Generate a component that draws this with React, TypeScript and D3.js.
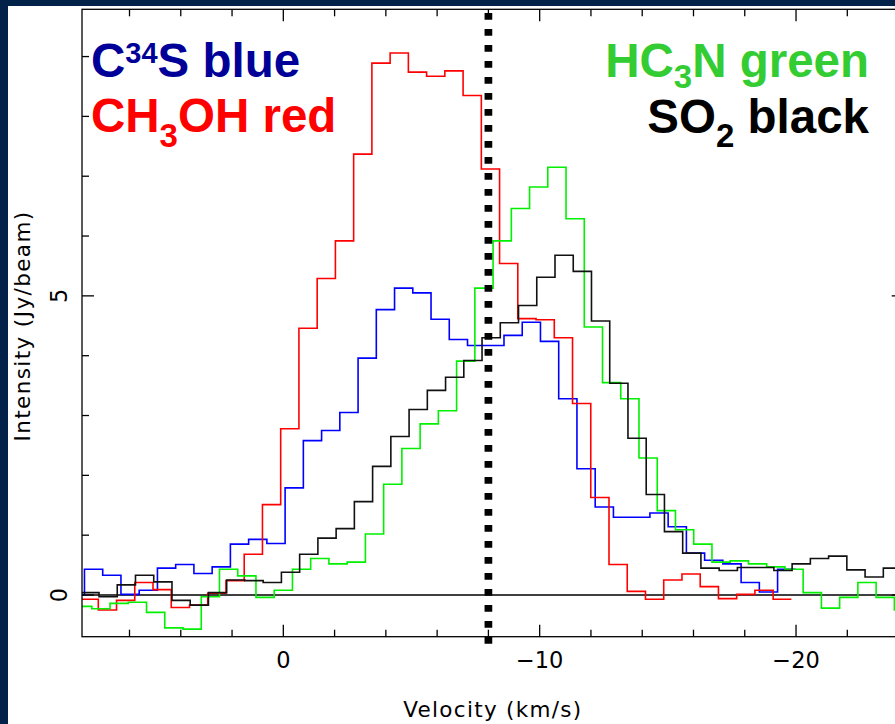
import React from 'react';
import * as d3 from 'd3';

// ---- data (velocity in km/s, intensity in Jy/beam) ----
const CHANNEL_WIDTH = 0.7115;

const C34S_START = 8.468;
const C34S_VALUES = [0.0, 0.43, 0.33, 0.01, 0.08, 0.45, 0.51, 0.36, 0.47, 0.85, 0.93, 0.86, 1.79, 2.58, 2.75, 3.05, 3.96, 4.77, 5.13, 5.05, 4.61, 4.27, 4.17, 4.17, 4.34, 4.56, 4.24, 3.28, 2.11, 1.47, 1.30, 1.30, 1.37, 1.14, 0.70, 0.58, 0.52, 0.21, 0.05, 0.43];

const CH3OH_START = 7.929;
const CH3OH_VALUES = [-0.07, -0.25, -0.09, 0.21, 0.09, -0.21, -0.17, 0.03, 0.24, 0.68, 1.51, 2.78, 4.46, 5.29, 5.92, 7.37, 8.89, 9.06, 8.74, 8.67, 8.76, 8.35, 7.12, 5.54, 4.62, 4.60, 4.30, 3.20, 1.63, 0.51, 0.06, -0.07, 0.25, 0.35, 0.14, -0.06, 0.01, 0.08, -0.07];

const HC3N_START = 8.182;
const HC3N_VALUES = [-0.19, -0.23, -0.14, -0.12, -0.29, -0.55, -0.57, -0.03, 0.43, 0.32, -0.04, 0.08, 0.43, 0.61, 0.52, 0.55, 1.02, 1.85, 2.45, 2.86, 3.08, 3.91, 5.13, 5.92, 6.46, 6.82, 7.15, 6.29, 4.48, 3.55, 3.28, 2.29, 1.41, 1.09, 0.85, 0.55, 0.57, 0.52, 0.47, 0.43, 0.04, -0.22, -0.04, 0.21, -0.04, -0.25];

const SO2_START = 7.901;
const SO2_VALUES = [0.04, -0.03, 0.17, 0.33, 0.22, -0.09, -0.17, 0.04, 0.25, 0.24, 0.21, 0.38, 0.68, 0.95, 1.11, 1.56, 2.15, 2.65, 3.10, 3.42, 3.64, 3.92, 4.30, 4.55, 4.84, 5.31, 5.68, 5.41, 4.58, 3.54, 2.62, 1.68, 1.06, 0.70, 0.45, 0.41, 0.46, 0.46, 0.41, 0.52, 0.61, 0.65, 0.42, 0.30, 0.45];

const VELOCITY_DOMAIN = [7.853, -24.2];
const INTENSITY_DOMAIN = [-0.697, 9.79];
const REFERENCE_VELOCITY = -8;

const X_MAJOR_TICKS = [0, -10, -20];
const X_TICK_LABELS = ['0', '\u221210', '\u221220'];
const X_MINOR_TICKS = [6, 4, 2, -2, -4, -6, -8, -12, -14, -16, -18, -22, -24];
const Y_MAJOR_TICKS = [0, 5];
const Y_TICK_LABELS = ['0', '5'];
const Y_MINOR_TICKS = [1, 2, 3, 4, 6, 7, 8, 9];

const X_TITLE = 'Velocity (km/s)';
const Y_TITLE = 'Intensity (Jy/beam)';

// ---- layout / style ----
const W = 895;
const H = 724;
const PLOT = { left: 82, right: 903.7, top: 9.3, bottom: 636.7 };
const NAVY = '#02224a';
const AXIS_FONT = "'DejaVu Sans', 'Liberation Sans', sans-serif";
const LEGEND_FONT = "'Liberation Sans', Arial, sans-serif";

const SERIES = [
  { key: 'c34s', start: C34S_START, values: C34S_VALUES, color: '#0000ff' },
  { key: 'ch3oh', start: CH3OH_START, values: CH3OH_VALUES, color: '#ff0000' },
  { key: 'hc3n', start: HC3N_START, values: HC3N_VALUES, color: '#00f000' },
  { key: 'so2', start: SO2_START, values: SO2_VALUES, color: '#111111' },
];

export default function App() {
  const x = d3.scaleLinear().domain(VELOCITY_DOMAIN).range([PLOT.left, PLOT.right]);
  const y = d3.scaleLinear().domain(INTENSITY_DOMAIN).range([PLOT.bottom, PLOT.top]);

  const line = d3
    .line<[number, number]>()
    .x((d) => x(d[0]))
    .y((d) => y(d[1]))
    .curve(d3.curveStepAfter);

  const stepPath = (start: number, values: number[]) => {
    const pts: [number, number][] = values.map((v, i) => [start - i * CHANNEL_WIDTH, v]);
    pts.push([start - values.length * CHANNEL_WIDTH, values[values.length - 1]]);
    return line(pts) || '';
  };

  const MAJ = 12;
  const MIN = 7;
  const axisStroke = { stroke: '#000', strokeWidth: 1.3 };

  const dotX = x(REFERENCE_VELOCITY);

  return (
    <svg
      width={W}
      height={H}
      style={{ position: 'absolute', left: 0, top: 0, display: 'block' }}
      xmlns="http://www.w3.org/2000/svg"
    >
      <defs>
        <clipPath id="plotClip">
          <rect x={PLOT.left} y={PLOT.top} width={PLOT.right - PLOT.left} height={PLOT.bottom - PLOT.top} />
        </clipPath>
      </defs>
      <rect x={0} y={0} width={W} height={H} fill={NAVY} />
      <rect x={8} y={6} width={W} height={H} fill="#ffffff" />

      {/* zero line */}
      <line x1={PLOT.left} x2={PLOT.right} y1={y(0)} y2={y(0)} {...axisStroke} />

      {/* spectra */}
      <g clipPath="url(#plotClip)" fill="none">
        {SERIES.map((s) => (
          <path key={s.key} d={stepPath(s.start, s.values)} stroke={s.color} strokeWidth={1.6} />
        ))}
      </g>

      {/* frame */}
      <rect
        x={PLOT.left}
        y={PLOT.top}
        width={PLOT.right - PLOT.left}
        height={PLOT.bottom - PLOT.top}
        fill="none"
        {...axisStroke}
      />

      {/* x ticks bottom & top */}
      {X_MAJOR_TICKS.map((t) => (
        <g key={'xM' + t}>
          <line x1={x(t)} x2={x(t)} y1={PLOT.bottom} y2={PLOT.bottom - MAJ} {...axisStroke} />
          <line x1={x(t)} x2={x(t)} y1={PLOT.top} y2={PLOT.top + MAJ} {...axisStroke} />
        </g>
      ))}
      {X_MINOR_TICKS.map((t) => (
        <g key={'xm' + t}>
          <line x1={x(t)} x2={x(t)} y1={PLOT.bottom} y2={PLOT.bottom - MIN} {...axisStroke} />
          <line x1={x(t)} x2={x(t)} y1={PLOT.top} y2={PLOT.top + MIN} {...axisStroke} />
        </g>
      ))}
      {/* y ticks left & right */}
      {Y_MAJOR_TICKS.map((t) => (
        <g key={'yM' + t}>
          <line x1={PLOT.left} x2={PLOT.left + MAJ} y1={y(t)} y2={y(t)} {...axisStroke} />
          <line x1={PLOT.right} x2={PLOT.right - MAJ} y1={y(t)} y2={y(t)} {...axisStroke} />
        </g>
      ))}
      {Y_MINOR_TICKS.map((t) => (
        <g key={'ym' + t}>
          <line x1={PLOT.left} x2={PLOT.left + MIN} y1={y(t)} y2={y(t)} {...axisStroke} />
          <line x1={PLOT.right} x2={PLOT.right - MIN} y1={y(t)} y2={y(t)} {...axisStroke} />
        </g>
      ))}

      {/* tick labels */}
      <g fontFamily={AXIS_FONT} fontSize={22.5} fill="#000">
        {X_MAJOR_TICKS.map((t, i) => (
          <text key={'xl' + t} x={x(t)} y={PLOT.bottom + 31.5} textAnchor="middle">
            {X_TICK_LABELS[i]}
          </text>
        ))}
        {Y_MAJOR_TICKS.map((t, i) => (
          <text
            key={'yl' + t}
            transform={`translate(${PLOT.left - 15.3},${y(t)}) rotate(-90)`}
            textAnchor="middle"
          >
            {Y_TICK_LABELS[i]}
          </text>
        ))}
        <text
          x={(PLOT.left + PLOT.right) / 2}
          y={717.3}
          textAnchor="middle"
          fontSize={21.5}
          letterSpacing={1.3}
        >
          {X_TITLE}
        </text>
        <text
          transform={`translate(29.5,${326}) rotate(-90)`}
          textAnchor="middle"
          fontSize={21.5}
          letterSpacing={1.4}
        >
          {Y_TITLE}
        </text>
      </g>

      {/* reference velocity dotted line */}
      <line
        x1={dotX}
        x2={dotX}
        y1={PLOT.top + 3.7}
        y2={PLOT.bottom + 8.3}
        stroke="#000"
        strokeWidth={7.7}
        strokeDasharray="6.7 9.3"
      />

      {/* legend */}
      <g fontFamily={LEGEND_FONT} fontWeight="bold" fontSize={47.5}>
        <text x={91} y={76.7} fill="#000099">
          C<tspan fontSize={29} dy={-13.4}>34</tspan>
          <tspan dy={13.4}>S blue</tspan>
        </text>
        <text x={91} y={131.7} fill="#ff0000">
          CH<tspan fontSize={33} dy={15.3}>3</tspan>
          <tspan dy={-15.3}>OH red</tspan>
        </text>
        <text x={869} y={76.7} fill="#33cc33" textAnchor="end">
          HC<tspan fontSize={33} dy={11}>3</tspan>
          <tspan dy={-11}>N green</tspan>
        </text>
        <text x={869} y={133.3} fill="#000000" textAnchor="end">
          SO<tspan fontSize={33} dy={13.4}>2</tspan>
          <tspan dy={-13.4}> black</tspan>
        </text>
      </g>
    </svg>
  );
}
